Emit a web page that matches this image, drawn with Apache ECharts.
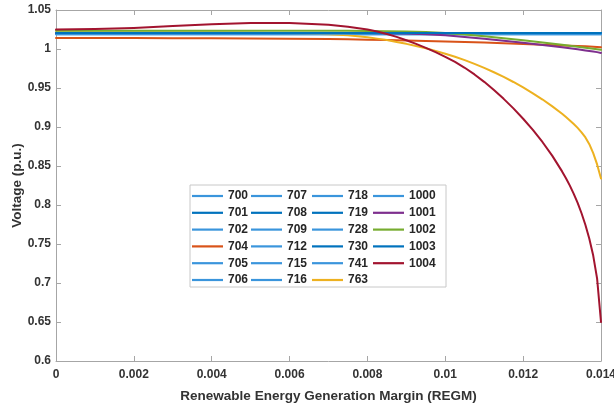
<!DOCTYPE html>
<html>
<head>
<meta charset="utf-8">
<script src="https://cdn.jsdelivr.net/npm/echarts@6/dist/echarts.min.js"></script>
<style>html,body{margin:0;padding:0;background:#fff}#c{width:614px;height:408px}</style>
</head>
<body>
<div id="c"></div>
<script>
// x samples (REGM) for the gently varying series 704, 1001, 1002
const xsA = [0,0.001,0.002,0.003,0.004,0.005,0.006,0.007,0.0075,0.008,0.0085,0.009,0.0095,0.01,0.0105,0.011,0.0115,0.012,0.0125,0.013,0.0132,0.0134,0.0136,0.0137,0.0138,0.0139,0.01395,0.014];
const v704  = [1.0142,1.0141,1.014,1.0139,1.0137,1.0135,1.0132,1.0127,1.0124,1.012,1.0115,1.011,1.0104,1.0097,1.009,1.0082,1.0074,1.0065,1.0056,1.0046,1.0042,1.0038,1.0034,1.0032,1.003,1.0027,1.0025,1.0023];
const v1001 = [1.0205,1.0205,1.0205,1.0205,1.0205,1.0205,1.0205,1.0205,1.0205,1.0205,1.0203,1.0198,1.019,1.0176,1.0155,1.0132,1.0106,1.008,1.0052,1.0022,1.001,0.9996,0.9982,0.9975,0.9968,0.996,0.9955,0.995];
const v1002 = [1.0235,1.0235,1.0235,1.0235,1.0235,1.0235,1.0235,1.0235,1.0233,1.023,1.0228,1.0225,1.0218,1.0205,1.0187,1.0165,1.0139,1.0111,1.0082,1.0053,1.0041,1.0028,1.0015,1.0009,1.0003,0.9997,0.9994,0.999];

// denser x samples for the collapsing series 763 and 1004
const xsB = [0,0.001,0.002,0.003,0.004,0.005,0.006,0.007,0.0075,0.008,
  0.00825,0.0085,0.00875,0.009,0.00925,0.0095,0.00975,0.01,0.01025,0.0105,0.01075,0.011,0.01125,0.0115,0.01175,0.012,0.01225,0.0125,0.01275,0.013,
  0.0131,0.0132,0.0133,0.0134,0.0135,0.0136,0.0137,0.0138,0.0139,0.014];
const v763 = [1.021,1.021,1.021,1.021,1.021,1.0208,1.0203,1.019,1.0175,1.015,
  1.0133,1.0114,1.0091,1.0066,1.0038,1.0009,0.9976,0.994,0.99,0.9857,0.9809,0.9758,0.9702,0.9642,0.9577,0.9507,0.9432,0.9352,0.9265,0.917,
  0.9127,0.9084,0.9039,0.8989,0.8932,0.8866,0.878,0.8665,0.852,0.834];
const v1004 = [1.025,1.0255,1.027,1.0295,1.0318,1.0332,1.0332,1.031,1.0285,1.025,
  1.0224,1.0192,1.0155,1.0112,1.0065,1.0015,0.996,0.99,0.9834,0.9759,0.9674,0.9579,0.9474,0.9361,0.9239,0.9106,0.8962,0.8805,0.863,0.8431,
  0.8343,0.8248,0.8143,0.8026,0.7894,0.7743,0.7567,0.7352,0.7057,0.65];

// flat (blue) buses: start and end of the REGM range with a constant level
const flatRange = [0, 0.014];
const flatNames  = ['700','701','702','705','706','707','708','709','712','715','716','718','719','728','730','741','1000','1003'];
const flatLevels = [1.0195,1.0205,1.0195,1.019,1.0195,1.0195,1.0205,1.0195,1.019,1.0195,1.0195,1.0195,1.0205,1.0195,1.0205,1.0195,1.0195,1.0205];
const darkBlue = ['701','708','719','730','1003'];

// legend columns
const legendCols = [
  ['700','701','702','704','705','706'],
  ['707','708','709','712','715','716'],
  ['718','719','728','730','741','763'],
  ['1000','1001','1002','1003','1004']
];
const yTicks = {min:0.6, max:1.05, step:0.05};
const xTicks = {min:0, max:0.014, step:0.002};

const curves = {
  '704': {xs: xsA, vals: v704, color:'#D95319'},
  '763': {xs: xsB, vals: v763, color:'#EDB120'},
  '1001': {xs: xsA, vals: v1001, color:'#7E2F8E'},
  '1002': {xs: xsA, vals: v1002, color:'#77AC30'},
  '1004': {xs: xsB, vals: v1004, color:'#A2142F'}
};

const order = legendCols.flat();
const series = order.map(name => {
  let data, color;
  if (curves[name]) {
    const c = curves[name];
    data = c.xs.map((x, i) => [x, c.vals[i]]);
    color = c.color;
  } else {
    const lv = flatLevels[flatNames.indexOf(name)];
    data = flatRange.map(x => [x, lv]);
    color = darkBlue.includes(name) ? '#0072BD' : '#3a95dc';
  }
  return {
    name, type:'line', data, smooth:false, symbol:'none', showSymbol:false,
    lineStyle:{width:2, color, join:'round', cap:'round'}, itemStyle:{color},
    emphasis:{disabled:true}, silent:true, animation:false, clip:true
  };
});

const font = 'Liberation Sans, Arial, sans-serif';
const axColor = '#a6a6a6';
const lblColor = '#333333';
const colLeft = [192, 251, 312, 373];
const lineIcon = 'path://M0,0 L31,0 L31,2.2 L0,2.2 Z';
const legends = legendCols.map((col, i) => ({
  data: col.map(n => ({name:n, icon:lineIcon})), orient:'vertical', left: colLeft[i], top: 190, padding: 0,
  itemWidth: 31, itemHeight: 14, itemGap: 4.8, selectedMode:false,
  textStyle:{fontFamily:font, fontWeight:'bold', fontSize:12, color:'#262626'}
}));

const fmtY = v => String(+v.toFixed(2));
const fmtX = v => String(+v.toFixed(3));

const chart = echarts.init(document.getElementById('c'), null, {renderer:'canvas'});
chart.setOption({
  backgroundColor:'#ffffff',
  animation:false,
  grid:{left:56, right:13, top:10, bottom:47, containLabel:false, outerBoundsMode:'none'},
  legend: legends,
  graphic:[{type:'rect', shape:{x:190, y:185, width:256, height:102}, style:{fill:'#fff', stroke:'#c8c8c8', lineWidth:1}, z:3, silent:true}],
  xAxis:[
    {type:'value', min:xTicks.min, max:xTicks.max, interval:xTicks.step, position:'bottom',
     name:'Renewable Energy Generation Margin (REGM)', nameLocation:'middle', nameGap:28, nameMoveOverlap:false,
     nameTextStyle:{fontFamily:font, fontWeight:'bold', fontSize:13.5, color:lblColor},
     axisLine:{onZero:false, lineStyle:{color:axColor}}, axisTick:{inside:true, length:5, lineStyle:{color:axColor}},
     axisLabel:{formatter:fmtX, fontFamily:font, fontWeight:'bold', fontSize:12, color:lblColor, margin:8},
     splitLine:{show:false}},
    {type:'value', min:xTicks.min, max:xTicks.max, interval:xTicks.step, position:'top',
     axisLine:{onZero:false, lineStyle:{color:axColor}}, axisTick:{inside:true, length:5, lineStyle:{color:axColor}},
     axisLabel:{show:false}, splitLine:{show:false}}
  ],
  yAxis:[
    {type:'value', min:yTicks.min, max:yTicks.max, interval:yTicks.step, position:'left',
     name:'Voltage (p.u.)', nameLocation:'middle', nameGap:32, nameRotate:90, nameMoveOverlap:false,
     nameTextStyle:{fontFamily:font, fontWeight:'bold', fontSize:13.5, color:lblColor},
     axisLine:{show:true, onZero:false, lineStyle:{color:axColor}}, axisTick:{show:true, inside:true, length:5, lineStyle:{color:axColor}},
     axisLabel:{formatter:fmtY, fontFamily:font, fontWeight:'bold', fontSize:12, color:lblColor, margin:5},
     splitLine:{show:false}},
    {type:'value', min:yTicks.min, max:yTicks.max, interval:yTicks.step, position:'right',
     axisLine:{show:true, onZero:false, lineStyle:{color:axColor}}, axisTick:{show:true, inside:true, length:5, lineStyle:{color:axColor}},
     axisLabel:{show:false}, splitLine:{show:false}}
  ],
  series
});
</script>
</body>
</html>
